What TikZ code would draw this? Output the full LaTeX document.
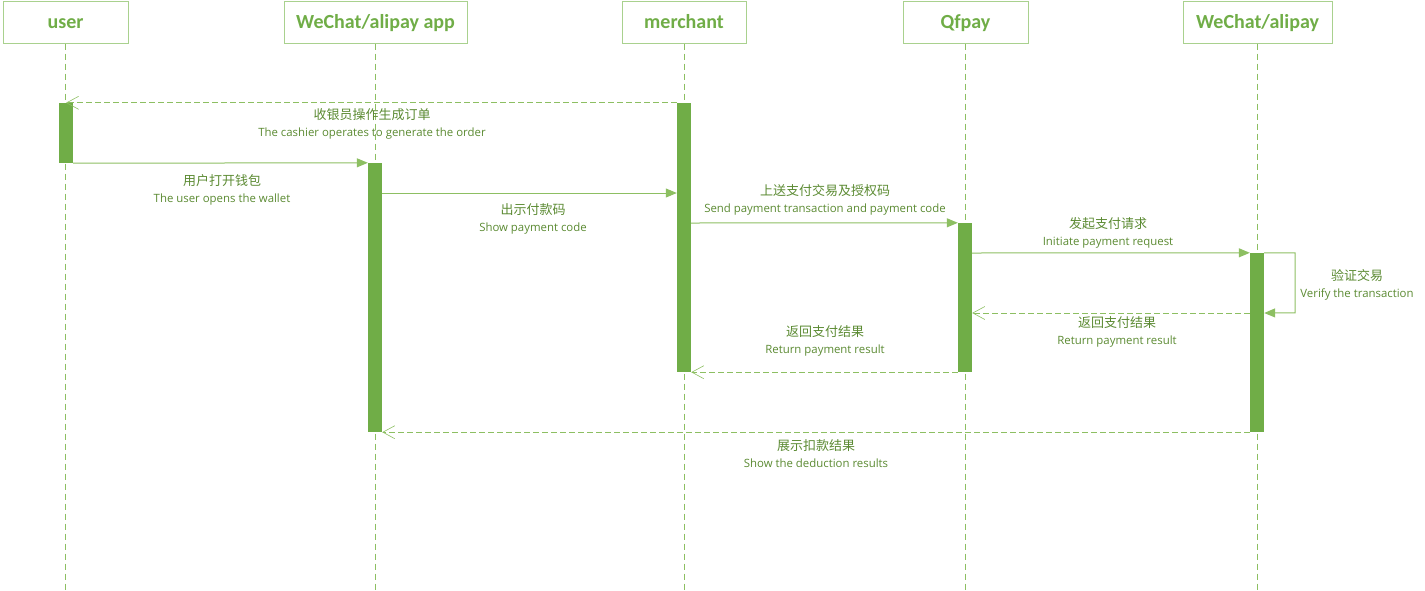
\documentclass[tikz,border=0pt]{standalone}
\usepackage{fontspec}
\setmainfont{Carlito}
\newfontfamily\cjk{Noto Sans CJK SC}
\newfontfamily\lblfont{Open Sans}
\usetikzlibrary{arrows.meta}
\definecolor{seqgreen}{HTML}{70AD47}
\definecolor{seqline}{HTML}{8DBF62}
\definecolor{seqtext}{HTML}{5B8A32}
\definecolor{seqbox}{HTML}{A9D18E}
\newcommand{\msgtext}[2]{{\cjk\fontsize{13}{17}\selectfont #1}\\{\lblfont\fontsize{11.4}{17}\selectfont #2}}

\begin{document}
\begin{tikzpicture}[x=1pt, y=-1pt,
    actor/.style={draw=seqbox, line width=1pt, minimum height=42pt, inner sep=0pt,
        text height=14pt, text depth=2pt,
        text=seqgreen, font=\fontsize{20}{20}\selectfont\bfseries},
    life/.style={draw=seqline, line width=0.6pt, dash pattern=on 6pt off 4pt},
    bar/.style={fill=seqgreen, inner sep=0pt, minimum width=14pt},
    call/.style={draw=seqline, line width=1pt, -{Triangle[length=11pt,width=9pt]}},
    reply/.style={draw=seqline, line width=0.8pt, dash pattern=on 6pt off 3pt,
        -{Straight Barb[length=12pt,width=13pt,line width=0.6pt]}},
    lbl/.style={text=seqtext, align=center, inner sep=0pt, font=\fontsize{10}{17}\selectfont}]
  \useasboundingbox (0,0) rectangle (1425,590);

  % actors
  \node[actor, minimum width=125pt] (user) at (65.5,22) {user};
  \node[actor, minimum width=183pt] (app) at (375.5,22) {WeChat/alipay app};
  \node[actor, minimum width=124pt] (merchant) at (684,22) {merchant};
  \node[actor, minimum width=125pt] (qfpay) at (965.5,22) {Qfpay};
  \node[actor, minimum width=149pt] (wx) at (1257.5,22) {WeChat/alipay};

  \foreach \a in {user,app,merchant,qfpay,wx}
    \draw[life] (\a.south) -- (\a.south |- 0,590);

  % activation bars
  \node[bar, minimum height=60pt] (barU) at (66,133) {};
  \node[bar, minimum height=269pt] (barA) at (375,297.5) {};
  \node[bar, minimum height=269pt] (barM) at (684,237.5) {};
  \node[bar, minimum height=149pt] (barQ) at (965,297.5) {};
  \node[bar, minimum height=179pt] (barW) at (1257,342.5) {};

  % messages
  \draw[reply] (barM.north west) -- (barU.north);
  \draw[call] (barU.south east) -- (barA.north west);
  \draw[call] (barA.east |- 0,193) -- (barM.west |- 0,193);
  \draw[call] (barM.east |- 0,223) -- (barQ.north west);
  \draw[call] (barQ.east |- 0,253) -- (barW.north west);
  \draw[call] (barW.north east) -- ++(31,0) -- ++(0,60) -- (barW.east |- 0,313);
  \draw[reply] (barW.west |- 0,313) -- (barQ.east |- 0,313);
  \draw[reply] (barQ.south west) -- (barM.south east);
  \draw[reply] (barW.south west) -- (barA.south east);

  \node[lbl] (m1) at (372,124) {\msgtext{收银员操作生成订单}{The cashier operates to generate the order}};
  \node[lbl] (m2) at (222,190) {\msgtext{用户打开钱包}{The user opens the wallet}};
  \node[lbl] (m3) at (533,219) {\msgtext{出示付款码}{Show payment code}};
  \node[lbl] (m4) at (825,200) {\msgtext{上送支付交易及授权码}{Send payment transaction and payment code}};
  \node[lbl] (m5) at (1108,233) {\msgtext{发起支付请求}{Initiate payment request}};
  \node[lbl] (m6) at (1357,285) {\msgtext{验证交易}{Verify the transaction}};
  \node[lbl] (m7) at (1117,332) {\msgtext{返回支付结果}{Return payment result}};
  \node[lbl] (m8) at (825,341) {\msgtext{返回支付结果}{Return payment result}};
  \node[lbl] (m9) at (816,454) {\msgtext{展示扣款结果}{Show the deduction results}};
\end{tikzpicture}
\end{document}
